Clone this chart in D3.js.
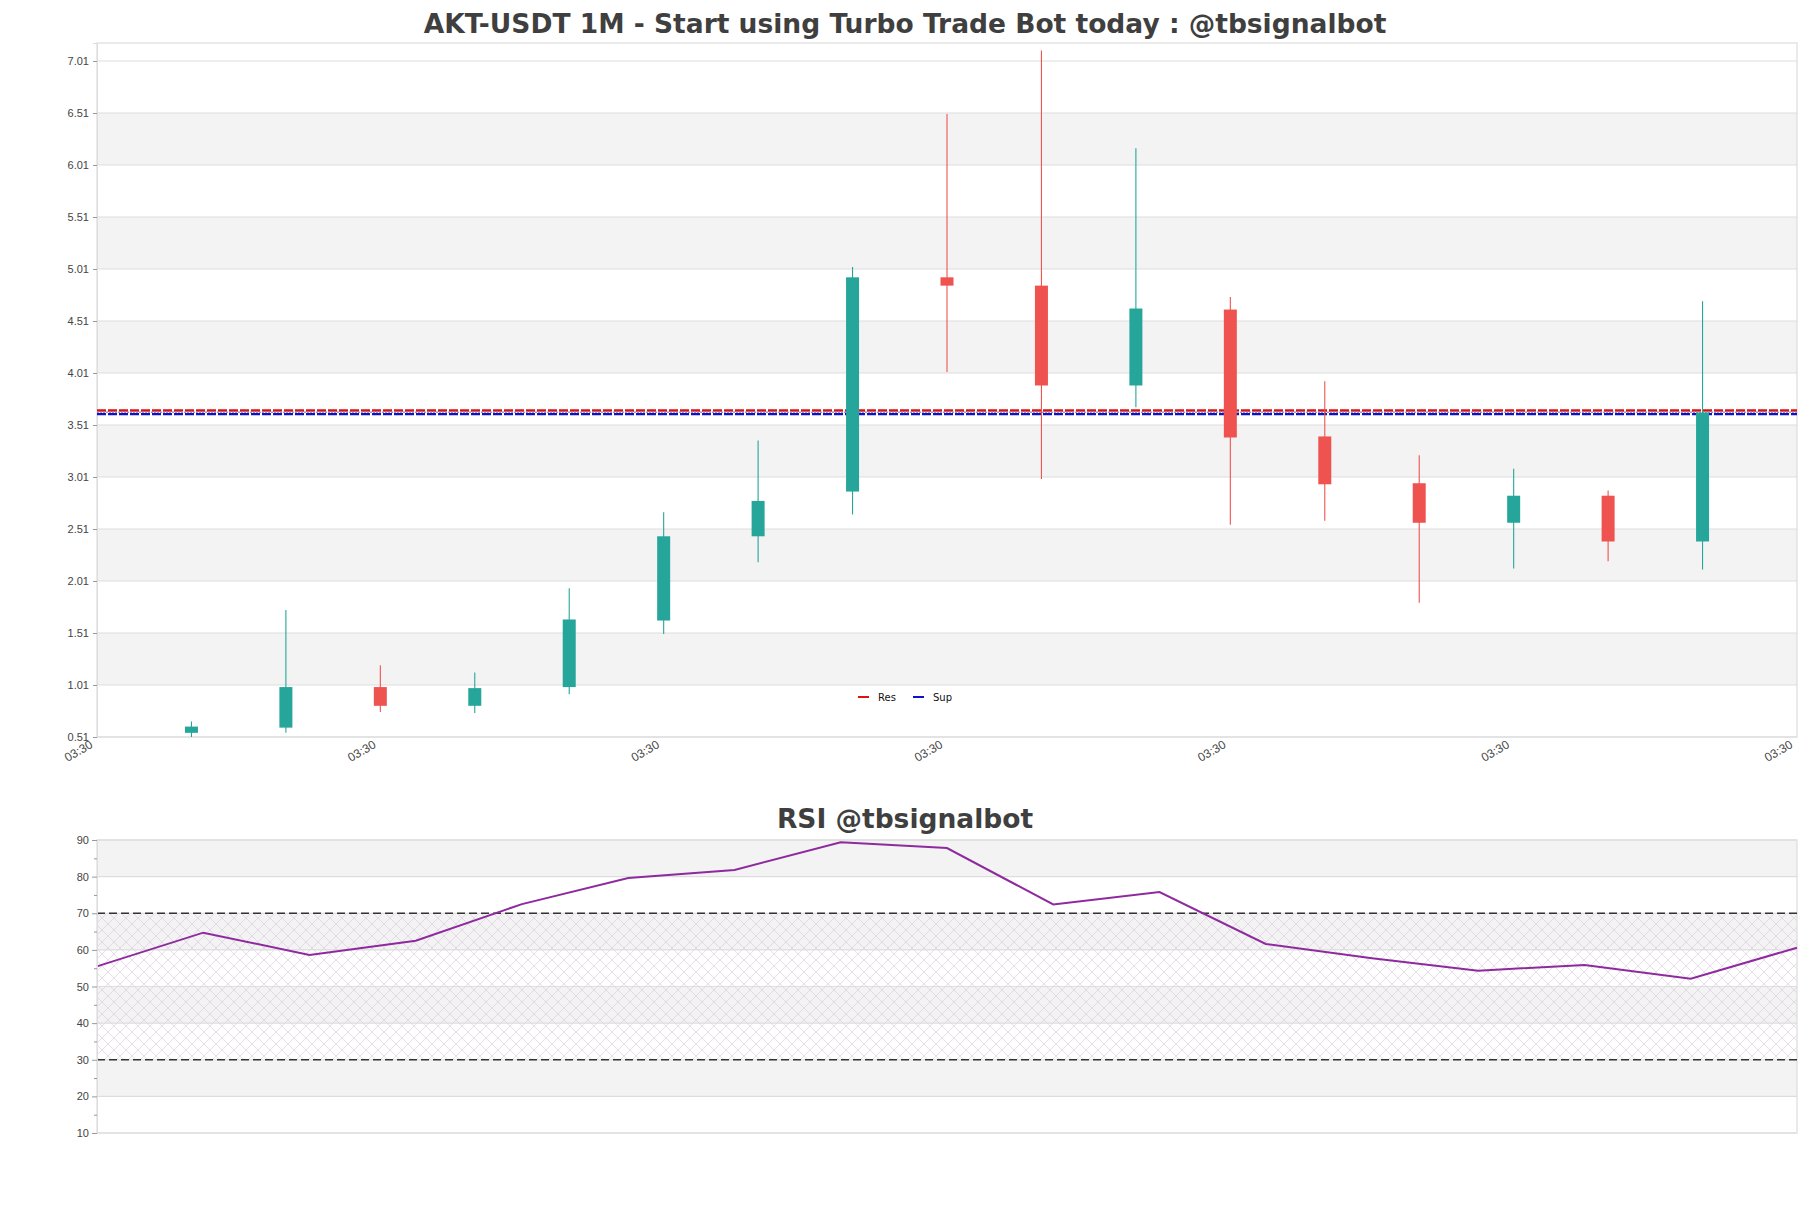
<!DOCTYPE html>
<html>
<head>
<meta charset="utf-8">
<script src="https://cdn.jsdelivr.net/npm/d3@7"></script>
<style>
  html, body { margin: 0; padding: 0; background: #ffffff; }
  svg { display: block; font-family: "DejaVu Sans", sans-serif; }
</style>
</head>
<body>
<svg id="chart" width="1811" height="1208"></svg>
<script>
// ---------- data ----------
const candleIndex = [1, 2, 3, 4, 5, 6, 7, 8, 9, 10, 11, 12, 13, 14, 15, 16, 17];
const opens  = [0.55, 0.60, 0.99, 0.81, 0.99, 1.63, 2.44, 2.87, 4.93, 4.85, 3.89, 4.62, 3.40, 2.95, 2.57, 2.83, 2.39];
const highs  = [0.66, 1.73, 1.20, 1.13, 1.94, 2.67, 3.36, 5.03, 6.50, 7.11, 6.17, 4.74, 3.93, 3.22, 3.09, 2.88, 4.70];
const lows   = [0.51, 0.55, 0.75, 0.74, 0.92, 1.50, 2.19, 2.65, 4.02, 2.99, 3.68, 2.55, 2.59, 1.80, 2.13, 2.20, 2.12];
const closes = [0.61, 0.99, 0.81, 0.98, 1.64, 2.44, 2.78, 4.93, 4.85, 3.89, 4.63, 3.39, 2.94, 2.57, 2.83, 2.39, 3.63];

const xTickIndex  = [0, 3, 6, 9, 12, 15, 18];
const xTickLabels = ["03:30", "03:30", "03:30", "03:30", "03:30", "03:30", "03:30"];
const priceTicks  = [0.51, 1.01, 1.51, 2.01, 2.51, 3.01, 3.51, 4.01, 4.51, 5.01, 5.51, 6.01, 6.51, 7.01];

const resLevel = 3.65;
const supLevel = 3.615;

const rsiValues = [55.5, 64.7, 58.6, 62.5, 72.5, 79.6, 81.8, 89.4, 87.8, 72.4, 75.8, 61.6, 57.7, 54.3, 55.9, 52.1, 60.6];
const rsiTicks = [10, 20, 30, 40, 50, 60, 70, 80, 90];
const rsiMinorTicks = [15, 25, 35, 45, 55, 65, 75, 85];

const titleMain = "AKT-USDT 1M - Start using Turbo Trade Bot today : @tbsignalbot";
const titleRsi = "RSI @tbsignalbot";

// ---------- layout ----------
const svg = d3.select("#chart");
const L = 97, R = 1797;
const mainTop = 43, mainBottom = 737;
const rsiTop = 840, rsiBottom = 1133;
const green = "#26a69a", red = "#ef5350";
const gridCol = "#dddddd", bandCol = "#f3f3f3", textCol = "#444444";

// defs: hatch
const defs = svg.append("defs");
const pat = defs.append("pattern").attr("id", "hatch").attr("patternUnits", "userSpaceOnUse")
  .attr("width", 12).attr("height", 12);
pat.append("path").attr("d", "M0,0 L12,12 M12,0 L0,12 M-3,9 L3,15 M9,-3 L15,3 M9,15 L15,9 M-3,3 L3,-3")
  .attr("stroke", "#d6c6de").attr("stroke-width", 0.6).attr("fill", "none");

// ---------- main chart ----------
const x = d3.scaleLinear().domain([0, 18]).range([L, R]);
const y = d3.scaleLinear().domain([0.51, 0.51 + (mainBottom - mainTop) / 104]).range([mainBottom, mainTop]);

const gMain = svg.append("g");
const bandPairs = [];
for (let i = 1; i + 1 < priceTicks.length; i += 2) bandPairs.push([priceTicks[i], priceTicks[i + 1]]);
gMain.selectAll("rect.band").data(bandPairs).join("rect").attr("class", "band")
  .attr("x", L).attr("width", R - L)
  .attr("y", d => y(d[1])).attr("height", d => y(d[0]) - y(d[1]))
  .attr("fill", bandCol);
gMain.selectAll("line.grid").data(priceTicks).join("line").attr("class", "grid")
  .attr("x1", L).attr("x2", R).attr("y1", d => y(d)).attr("y2", d => y(d))
  .attr("stroke", gridCol).attr("stroke-width", 1.2);
gMain.append("rect").attr("x", L).attr("y", mainTop).attr("width", R - L).attr("height", mainBottom - mainTop)
  .attr("fill", "none").attr("stroke", gridCol).attr("stroke-width", 1.2);

// y axis
const yAxis = d3.axisLeft(y).tickValues(priceTicks).tickFormat(d3.format(".2f")).tickSize(4).tickPadding(4);
const gy = svg.append("g").attr("transform", `translate(${L},0)`).call(yAxis);
gy.select(".domain").attr("stroke", gridCol);
gy.selectAll(".tick line").attr("stroke", "#999");
gy.selectAll("text").attr("fill", textCol).style("font-size", "11px");

// x axis
const xAxis = d3.axisBottom(x).tickValues(xTickIndex).tickFormat((d, i) => xTickLabels[i]).tickSize(0);
const gx = svg.append("g").attr("transform", `translate(0,${mainBottom})`).call(xAxis);
gx.select(".domain").remove();
gx.selectAll("text").attr("fill", textCol).style("font-size", "12px")
  .attr("text-anchor", "end").attr("dy", null).attr("y", 0)
  .attr("transform", "translate(-4,10) rotate(-30)");

// res/sup lines
const gLevels = svg.append("g");
gLevels.append("line").attr("x1", L).attr("x2", R).attr("y1", y(resLevel)).attr("y2", y(resLevel))
  .attr("stroke", "#dd1111").attr("stroke-width", 2.4).attr("stroke-dasharray", "9,2");
gLevels.append("line").attr("x1", L).attr("x2", R).attr("y1", y((resLevel + supLevel) / 2)).attr("y2", y((resLevel + supLevel) / 2))
  .attr("stroke", "#9a9ab8").attr("stroke-width", 1.4).attr("stroke-dasharray", "2,1");
gLevels.append("line").attr("x1", L).attr("x2", R).attr("y1", y(supLevel)).attr("y2", y(supLevel))
  .attr("stroke", "#1010cc").attr("stroke-width", 2.2).attr("stroke-dasharray", "9,2");

// candles
const candles = candleIndex.map((d, i) => ({ i: d, o: opens[i], h: highs[i], l: lows[i], c: closes[i] }));
const bw = 13;
const gC = svg.append("g");
gC.selectAll("line.wick").data(candles).join("line").attr("class", "wick")
  .attr("x1", d => x(d.i)).attr("x2", d => x(d.i))
  .attr("y1", d => y(d.h)).attr("y2", d => y(d.l))
  .attr("stroke", d => d.c >= d.o ? green : red).attr("stroke-width", 1.1);
gC.selectAll("rect.body").data(candles).join("rect").attr("class", "body")
  .attr("x", d => x(d.i) - bw / 2).attr("width", bw)
  .attr("y", d => y(Math.max(d.o, d.c)))
  .attr("height", d => Math.max(1, Math.abs(y(d.o) - y(d.c))))
  .attr("fill", d => d.c >= d.o ? green : red);

// legend
const legend = svg.append("g").attr("transform", "translate(858,697)");
const legItems = [{ label: "Res", color: "#dd1111", dx: 0 }, { label: "Sup", color: "#1010cc", dx: 55 }];
legItems.forEach(it => {
  legend.append("line").attr("x1", it.dx).attr("x2", it.dx + 11).attr("y1", 0).attr("y2", 0)
    .attr("stroke", it.color).attr("stroke-width", 2);
  legend.append("text").attr("x", it.dx + 20).attr("y", 4).text(it.label)
    .attr("fill", "#111").style("font-size", "10px");
});

// main title
svg.append("text").attr("x", 905).attr("y", 33).attr("text-anchor", "middle")
  .attr("fill", "#3f3f3f").style("font-size", "26.5px").style("font-weight", "bold").text(titleMain);

// ---------- RSI ----------
const xr = d3.scaleLinear().domain([0, rsiValues.length - 1]).range([L, R]);
const yr = d3.scaleLinear().domain([10, 90]).range([rsiBottom, rsiTop]);
const gR = svg.append("g");
const rsiBands = [[80, 90], [60, 70], [40, 50], [20, 30]];
gR.selectAll("rect.band").data(rsiBands).join("rect").attr("class", "band")
  .attr("x", L).attr("width", R - L).attr("y", d => yr(d[1])).attr("height", d => yr(d[0]) - yr(d[1]))
  .attr("fill", bandCol);
gR.append("rect").attr("x", L).attr("width", R - L).attr("y", yr(70)).attr("height", yr(30) - yr(70))
  .attr("fill", "url(#hatch)");
gR.selectAll("line.grid").data(rsiTicks).join("line").attr("class", "grid")
  .attr("x1", L).attr("x2", R).attr("y1", d => yr(d)).attr("y2", d => yr(d))
  .attr("stroke", gridCol).attr("stroke-width", 1.2);
gR.append("rect").attr("x", L).attr("y", rsiTop).attr("width", R - L).attr("height", rsiBottom - rsiTop)
  .attr("fill", "none").attr("stroke", gridCol).attr("stroke-width", 1.2);
[70, 30].forEach(v => {
  gR.append("line").attr("x1", L).attr("x2", R).attr("y1", yr(v)).attr("y2", yr(v))
    .attr("stroke", "#333").attr("stroke-width", 1.3).attr("stroke-dasharray", "8,4");
});

const ryAxis = d3.axisLeft(yr).tickValues(rsiTicks).tickFormat(d3.format("d")).tickSize(5).tickPadding(3);
const gry = svg.append("g").attr("transform", `translate(${L},0)`).call(ryAxis);
gry.select(".domain").attr("stroke", gridCol);
gry.selectAll(".tick line").attr("stroke", "#999");
gry.selectAll("text").attr("fill", textCol).style("font-size", "11px");
const minorAxis = d3.axisLeft(yr).tickValues(rsiMinorTicks).tickFormat("").tickSize(3);
const gmy = svg.append("g").attr("transform", `translate(${L},0)`).call(minorAxis);
gmy.select(".domain").remove();
gmy.selectAll(".tick line").attr("stroke", "#999");

gR.append("path").datum(rsiValues)
  .attr("d", d3.line().x((d, i) => xr(i)).y(d => yr(d)))
  .attr("fill", "none").attr("stroke", "#8e2a9e").attr("stroke-width", 2);

svg.append("text").attr("x", 905).attr("y", 828).attr("text-anchor", "middle")
  .attr("fill", "#3f3f3f").style("font-size", "26.5px").style("font-weight", "bold").text(titleRsi);
</script>
</body>
</html>
